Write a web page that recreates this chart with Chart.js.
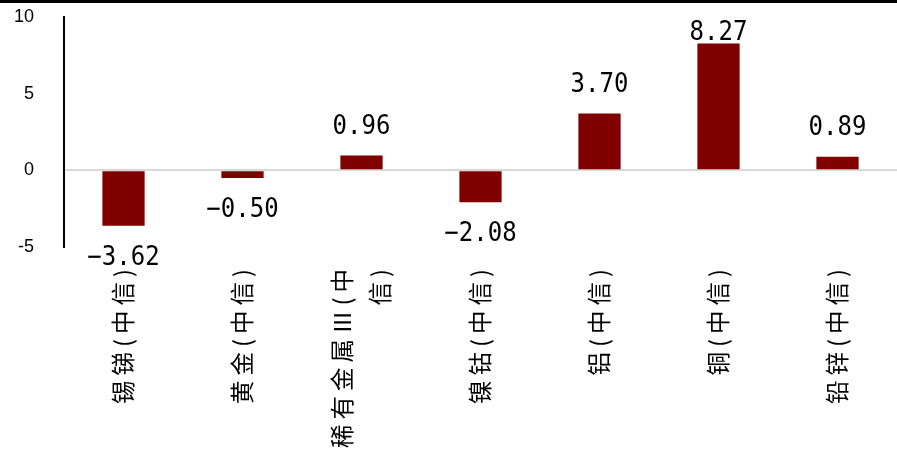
<!DOCTYPE html>
<html>
<head>
<meta charset="utf-8">
<script src="https://cdn.jsdelivr.net/npm/chart.js@4.4.1/dist/chart.umd.min.js"></script>
<style>
    body { margin: 0; background: #fff; }
    #wrap { position: relative; width: 897px; height: 454px; }
    #topBar { position: absolute; left: 0; top: 0; width: 897px; height: 3px; background: #000; }
</style>
</head>
<body>
<div id="wrap">
    <canvas id="barChart" width="897" height="454"></canvas>
    <div id="topBar"></div>
</div>
<script>
const categories = [
    "锡锑(中信)",
    "黄金(中信)",
    ["稀有金属Ⅲ(中", "信)"],
    "镍钴(中信)",
    "铝(中信)",
    "铜(中信)",
    "铅锌(中信)"
];
const changes = [-3.62, -0.50, 0.96, -2.08, 3.70, 8.27, 0.89];
const yMin = -5;
const yMax = 10;
const yStep = 5;

// value labels above / below each bar (narrow mono digits)
const valueLabels = {
    id: "valueLabels",
    afterDatasetsDraw(chart) {
        const ctx = chart.ctx;
        const meta = chart.getDatasetMeta(0);
        const sx = 0.89;
        ctx.save();
        ctx.font = "27px 'DejaVu Sans Mono'";
        ctx.fillStyle = "#000";
        ctx.textAlign = "center";
        ctx.textBaseline = "alphabetic";
        meta.data.forEach((bar, i) => {
            const v = changes[i];
            const txt = v.toFixed(2).replace("-", "\u2212");
            let y;
            if (v >= 0) {
                y = bar.y - 22;
                const minY = chart.chartArea.top + 21;
                if (y < minY) y = Math.max(bar.y - 4, minY);
            } else {
                y = bar.y + 39;
            }
            ctx.save();
            ctx.translate(bar.x, y);
            ctx.scale(sx, 1);
            ctx.fillText(txt, 0, 0);
            ctx.restore();
        });
        ctx.restore();
    }
};

// rotated category labels, placed from the x scale
const categoryLabels = {
    id: "categoryLabels",
    afterDraw(chart) {
        const ctx = chart.ctx;
        const xs = chart.scales.x;
        const lineH = 38;
        ctx.save();
        ctx.font = "23.5px 'Noto Sans CJK SC'";
        ctx.letterSpacing = "5px";
        ctx.fillStyle = "#000";
        ctx.textAlign = "right";
        ctx.textBaseline = "middle";
        categories.forEach((label, i) => {
            const lines = Array.isArray(label) ? label : [label];
            const x = xs.getPixelForTick(i);
            ctx.save();
            ctx.translate(x, chart.chartArea.bottom + 17);
            ctx.rotate(-Math.PI / 2);
            lines.forEach((line, j) => {
                ctx.fillText(line, 0, (j - (lines.length - 1) / 2) * lineH);
            });
            ctx.restore();
        });
        ctx.restore();
    }
};

new Chart(document.getElementById("barChart"), {
    type: "bar",
    data: {
        labels: categories,
        datasets: [{
            data: changes,
            backgroundColor: "#800000",
            borderWidth: 0,
            categoryPercentage: 1,
            barPercentage: 0.355
        }]
    },
    options: {
        responsive: false,
        animation: false,
        layout: { padding: { top: 17, right: 0, left: 0, bottom: 0 } },
        plugins: {
            legend: { display: false },
            tooltip: { enabled: false }
        },
        scales: {
            x: {
                grid: { display: false, drawTicks: false },
                border: { display: false },
                ticks: { display: false },
                afterFit(scale) { scale.height = 207; }
            },
            y: {
                min: yMin,
                max: yMax,
                ticks: {
                    stepSize: yStep,
                    padding: 30,
                    color: "#000",
                    font: { family: "'Liberation Sans'", size: 18 }
                },
                grid: {
                    drawTicks: false,
                    lineWidth: 2,
                    color: ctx => (ctx.tick && ctx.tick.value === 0 ? "#d9d9d9" : "rgba(0,0,0,0)")
                },
                border: { color: "#000", width: 2 },
                afterFit(scale) {
                    scale.width = 64;
                    scale.paddingTop = 0;
                    scale.paddingBottom = 0;
                }
            }
        }
    },
    plugins: [valueLabels, categoryLabels]
});
</script>
</body>
</html>
